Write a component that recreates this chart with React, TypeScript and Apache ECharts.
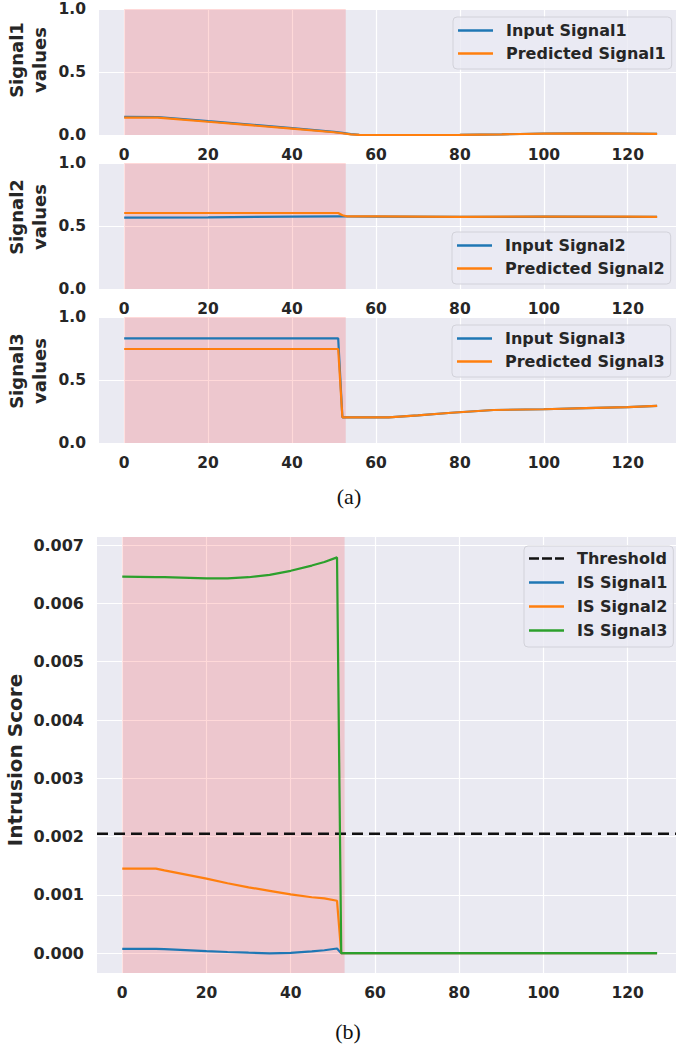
import React, { useEffect, useRef } from "react";
import * as echarts from "echarts";

const xTicks = [0, 20, 40, 60, 80, 100, 120];
const valueTicks = [0, 0.5, 1.0];
const scoreTicks = [0, 0.001, 0.002, 0.003, 0.004, 0.005, 0.006, 0.007];

const attackStart = 0;
const attackEnd = 52.8;

const sig1X = [0, 8, 20, 30, 40, 50, 52, 54, 56, 60, 70, 80, 90, 100, 110, 120, 127];
const sig1Input = [0.145, 0.143, 0.11, 0.083, 0.054, 0.025, 0.017, 0.007, 0.002, 0.0, 0.0, 0.001, 0.005, 0.012, 0.014, 0.012, 0.01];
const sig1Pred = [0.138, 0.138, 0.105, 0.078, 0.05, 0.022, 0.014, 0.005, 0.001, 0.0, 0.0, 0.001, 0.005, 0.011, 0.013, 0.011, 0.009];

const sig2X = [0, 20, 40, 51, 52, 53, 60, 80, 100, 120, 127];
const sig2Input = [0.566, 0.569, 0.574, 0.577, 0.577, 0.576, 0.575, 0.572, 0.574, 0.573, 0.572];
const sig2Pred = [0.603, 0.603, 0.603, 0.603, 0.585, 0.577, 0.576, 0.573, 0.575, 0.574, 0.573];

const sig3X = [0, 20, 40, 51, 52, 63, 70, 78, 88, 100, 110, 120, 127];
const sig3Input = [0.831, 0.831, 0.831, 0.831, 0.204, 0.204, 0.22, 0.24, 0.262, 0.268, 0.276, 0.284, 0.294];
const sig3Pred = [0.746, 0.746, 0.746, 0.746, 0.204, 0.204, 0.22, 0.24, 0.262, 0.268, 0.276, 0.284, 0.294];

const scoreX = [0, 8, 10, 20, 25, 30, 35, 40, 45, 48, 51, 52, 60, 80, 100, 120, 127];
const isSignal1 = [0.000075, 0.000075, 0.00007, 0.000035, 0.00002, 0.000008, -0.000002, 0.000005, 0.00003, 0.00005, 0.00008, 0, 0, 0, 0, 0, 0];
const isSignal2 = [0.00145, 0.00145, 0.00142, 0.00128, 0.0012, 0.00113, 0.00107, 0.00101, 0.00096, 0.00094, 0.0009, 0, 0, 0, 0, 0, 0];
const isSignal3 = [0.00646, 0.00645, 0.00645, 0.00643, 0.00643, 0.00645, 0.00649, 0.00656, 0.00665, 0.00671, 0.00679, 0, 0, 0, 0, 0, 0];
const thresholdValue = 0.00205;

const BLUE = "#1f77b4";
const ORANGE = "#ff7f0e";
const GREEN = "#2ca02c";
const FONT = "DejaVu Sans";
const TEXT = "#262626";

const X_MIN = -6;
const X_MAX = 131.5;

const DASH_ICON = "path://M0,0h10v2.5h-10z M13,0h10v2.5h-10z M26,0h9v2.5h-9z";

function lineSeries(name: string, xs: number[], ys: number[], color: string, idx: number, extra: any = {}) {
  return {
    type: "line",
    name,
    xAxisIndex: idx,
    yAxisIndex: idx,
    data: xs.map((x, i) => [x, ys[i]]),
    symbol: "none",
    showSymbol: false,
    lineStyle: { color, width: 2.2 },
    itemStyle: { color },
    z: 3,
    ...extra,
  };
}

function shade() {
  return {
    silent: true,
    itemStyle: { color: "rgba(255,0,0,0.15)" },
    data: [[{ xAxis: attackStart }, { xAxis: attackEnd }]],
  };
}

function xAxisCfg(idx: number) {
  return {
    type: "value",
    gridIndex: idx,
    min: X_MIN,
    max: X_MAX,
    axisLine: { show: false },
    axisTick: { show: false, customValues: xTicks },
    axisLabel: {
      customValues: xTicks,
      formatter: (v: number) => String(v),
      color: TEXT,
      fontFamily: FONT,
      fontWeight: "bold",
      fontSize: 15.5,
      margin: 12,
    },
    splitLine: { show: true, lineStyle: { color: "#ffffff", width: 1.2 } },
  };
}

function yAxisCfg(idx: number, ticks: number[], min: number, max: number, digits: number, fs: number) {
  return {
    type: "value",
    gridIndex: idx,
    min,
    max,
    axisLine: { show: false },
    axisTick: { show: false, customValues: ticks },
    axisLabel: {
      customValues: ticks,
      formatter: (v: number) => v.toFixed(digits),
      color: TEXT,
      fontFamily: FONT,
      fontWeight: "bold",
      fontSize: fs,
      margin: 13,
    },
    splitLine: { show: true, lineStyle: { color: "#ffffff", width: 1.2 } },
  };
}

const legendCommon = {
  orient: "vertical",
  icon: "rect",
  itemWidth: 35,
  itemHeight: 2.5,
  itemGap: 6,
  padding: [5, 6, 7, 5],
  backgroundColor: "rgba(234,234,242,0.8)",
  borderColor: "#d2d2da",
  borderWidth: 1,
  borderRadius: 4,
  selectedMode: false,
  textStyle: {
    fontFamily: FONT,
    fontWeight: "bold",
    fontSize: 16,
    color: TEXT,
    lineHeight: 17,
    padding: [0, 0, 0, 8],
  },
};

function yName(text: string, x: number, y: number, size: number) {
  return {
    type: "text",
    x,
    y,
    rotation: Math.PI / 2,
    style: {
      text,
      fill: TEXT,
      font: `bold ${size}px "${FONT}"`,
      align: "center",
      verticalAlign: "middle",
      lineHeight: 23,
    },
  };
}

export default function App() {
  const ref = useRef<HTMLDivElement>(null);
  useEffect(() => {
    if (!ref.current) return;
    const chart = echarts.init(ref.current, undefined, { renderer: "svg" });
    const gridCommon = { show: true, backgroundColor: "#EAEAF2", borderWidth: 0 };
    chart.setOption({
      animation: false,
      backgroundColor: "#ffffff",
      grid: [
        { ...gridCommon, left: 99, top: 9, width: 577, height: 126 },
        { ...gridCommon, left: 99, top: 163, width: 577, height: 126 },
        { ...gridCommon, left: 99, top: 317, width: 577, height: 126 },
        { ...gridCommon, left: 97, top: 537, width: 579, height: 436 },
      ],
      xAxis: [xAxisCfg(0), xAxisCfg(1), xAxisCfg(2), xAxisCfg(3)],
      yAxis: [
        yAxisCfg(0, valueTicks, 0, 1, 1, 15.5),
        yAxisCfg(1, valueTicks, 0, 1, 1, 15.5),
        yAxisCfg(2, valueTicks, 0, 1, 1, 15.5),
        yAxisCfg(3, scoreTicks, -0.00034, 0.00714, 3, 16),
      ],
      legend: [
        { ...legendCommon, data: ["Input Signal1", "Predicted Signal1"], left: 453, top: 17 },
        { ...legendCommon, data: ["Input Signal2", "Predicted Signal2"], left: 452, top: 232 },
        { ...legendCommon, data: ["Input Signal3", "Predicted Signal3"], left: 452, top: 325 },
        {
          ...legendCommon,
          data: [{ name: "Threshold", icon: DASH_ICON }, "IS Signal1", "IS Signal2", "IS Signal3"],
          left: 524,
          top: 546,
          itemGap: 7,
          padding: [4, 6, 8, 5],
        },
      ],
      series: [
        lineSeries("Input Signal1", sig1X, sig1Input, BLUE, 0, { markArea: shade() }),
        lineSeries("Predicted Signal1", sig1X, sig1Pred, ORANGE, 0),
        lineSeries("Input Signal2", sig2X, sig2Input, BLUE, 1, { markArea: shade() }),
        lineSeries("Predicted Signal2", sig2X, sig2Pred, ORANGE, 1),
        lineSeries("Input Signal3", sig3X, sig3Input, BLUE, 2, { markArea: shade() }),
        lineSeries("Predicted Signal3", sig3X, sig3Pred, ORANGE, 2),
        lineSeries("Threshold", [X_MIN, X_MAX], [thresholdValue, thresholdValue], "#111111", 3, {
          lineStyle: { color: "#111111", width: 2.5, type: [11, 6] },
          markArea: shade(),
        }),
        lineSeries("IS Signal1", scoreX, isSignal1, BLUE, 3),
        lineSeries("IS Signal2", scoreX, isSignal2, ORANGE, 3),
        lineSeries("IS Signal3", scoreX, isSignal3, GREEN, 3),
      ],
      graphic: [
        yName("Signal1\nvalues", 28, 60, 18),
        yName("Signal2\nvalues", 28, 217, 18),
        yName("Signal3\nvalues", 28, 371, 18),
        yName("Intrusion Score", 15, 760, 20),
        {
          type: "text",
          x: 349,
          y: 496,
          style: { text: "(a)", fill: "#111", font: '22px "Liberation Serif"', align: "center", verticalAlign: "middle" },
        },
        {
          type: "text",
          x: 348,
          y: 1031,
          style: { text: "(b)", fill: "#111", font: '22px "Liberation Serif"', align: "center", verticalAlign: "middle" },
        },
      ],
    });
    return () => chart.dispose();
  }, []);
  return (
    <div
      ref={ref}
      style={{ position: "absolute", left: 0, top: 0, width: 676, height: 1048, background: "#fff" }}
    />
  );
}
